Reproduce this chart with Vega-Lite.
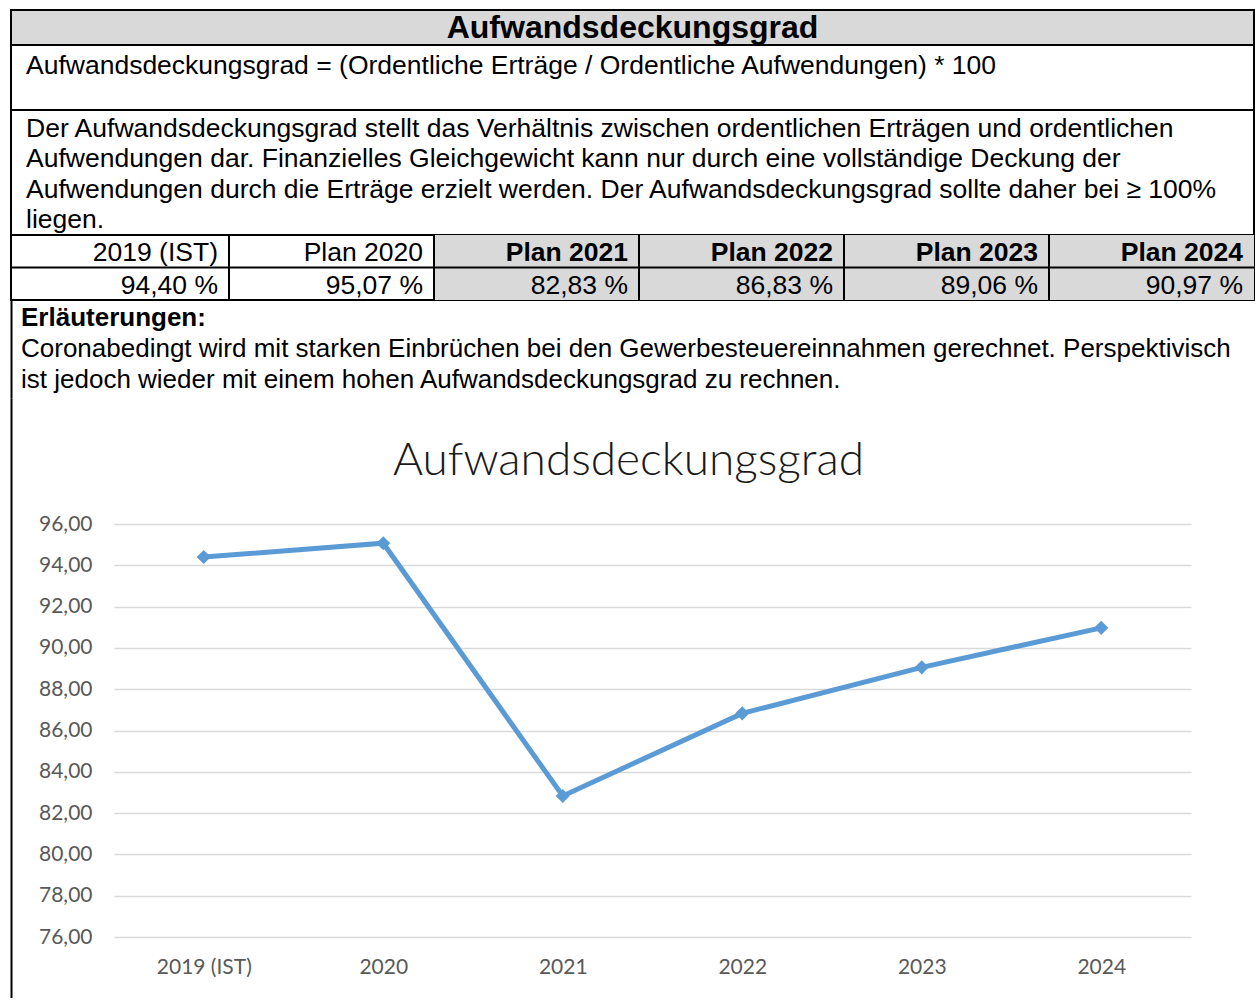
{
  "$schema": "https://vega.github.io/schema/vega-lite/v6.json",
  "usermeta": {"embedOptions": {"actions": false}},
  "padding": {"left": 9, "top": 9, "right": 0, "bottom": 0},
  "spacing": 0,
  "bounds": "flush",
  "config": {
    "view": {"stroke": null},
    "font": "Liberation Sans",
    "text": {"font": "Liberation Sans", "fontSize": 26.5, "color": "black"}
  },
  "datasets": {
    "kennzahl": [
      {"jahr": "2019 (IST)", "grad": 94.40},
      {"jahr": "2020", "grad": 95.07},
      {"jahr": "2021", "grad": 82.83},
      {"jahr": "2022", "grad": 86.83},
      {"jahr": "2023", "grad": 89.06},
      {"jahr": "2024", "grad": 90.97}
    ],
    "tabelle": [
      {"spalte": "2019 (IST)", "zeile": "Kopf", "inhalt": "2019 (IST)", "planjahr": false},
      {"spalte": "2019 (IST)", "zeile": "Wert", "inhalt": "94,40 %", "planjahr": false},
      {"spalte": "Plan 2020", "zeile": "Kopf", "inhalt": "Plan 2020", "planjahr": false},
      {"spalte": "Plan 2020", "zeile": "Wert", "inhalt": "95,07 %", "planjahr": false},
      {"spalte": "Plan 2021", "zeile": "Kopf", "inhalt": "Plan 2021", "planjahr": true},
      {"spalte": "Plan 2021", "zeile": "Wert", "inhalt": "82,83 %", "planjahr": true},
      {"spalte": "Plan 2022", "zeile": "Kopf", "inhalt": "Plan 2022", "planjahr": true},
      {"spalte": "Plan 2022", "zeile": "Wert", "inhalt": "86,83 %", "planjahr": true},
      {"spalte": "Plan 2023", "zeile": "Kopf", "inhalt": "Plan 2023", "planjahr": true},
      {"spalte": "Plan 2023", "zeile": "Wert", "inhalt": "89,06 %", "planjahr": true},
      {"spalte": "Plan 2024", "zeile": "Kopf", "inhalt": "Plan 2024", "planjahr": true},
      {"spalte": "Plan 2024", "zeile": "Wert", "inhalt": "90,97 %", "planjahr": true}
    ]
  },
  "vconcat": [
    {
      "width": 1243, "height": 35,
      "view": {"fill": "#d9d9d9", "stroke": "black", "strokeWidth": 2},
      "data": {"values": [{"inhalt": "Aufwandsdeckungsgrad"}]},
      "mark": {"type": "text", "fontWeight": "bold", "fontSize": 32},
      "encoding": {"text": {"field": "inhalt"}}
    },
    {
      "width": 1243, "height": 65,
      "view": {"fill": "white", "stroke": "black", "strokeWidth": 2},
      "data": {"values": [{"zeile": 1, "inhalt": "Aufwandsdeckungsgrad = (Ordentliche Erträge / Ordentliche Aufwendungen) * 100"}]},
      "mark": {"type": "text", "align": "left", "baseline": "middle", "dx": 15},
      "encoding": {
        "x": {"datum": 0, "type": "quantitative", "axis": null, "scale": {"domain": [0, 1]}},
        "y": {"field": "zeile", "type": "ordinal", "axis": null, "scale": {"type": "point", "padding": 0.5, "align": 0.325}},
        "text": {"field": "inhalt"}
      }
    },
    {
      "width": 1243, "height": 125,
      "view": {"fill": "white", "stroke": "black", "strokeWidth": 2},
      "data": {"values": [
        {"zeile": 1, "inhalt": "Der Aufwandsdeckungsgrad stellt das Verhältnis zwischen ordentlichen Erträgen und ordentlichen"},
        {"zeile": 2, "inhalt": "Aufwendungen dar. Finanzielles Gleichgewicht kann nur durch eine vollständige Deckung der"},
        {"zeile": 3, "inhalt": "Aufwendungen durch die Erträge erzielt werden. Der Aufwandsdeckungsgrad sollte daher bei ≥ 100%"},
        {"zeile": 4, "inhalt": "liegen."}
      ]},
      "mark": {"type": "text", "align": "left", "baseline": "middle", "dx": 15},
      "encoding": {
        "x": {"datum": 0, "type": "quantitative", "axis": null, "scale": {"domain": [0, 1]}},
        "y": {"field": "zeile", "type": "ordinal", "axis": null, "scale": {"type": "point", "padding": 0.56, "align": 0.56}},
        "text": {"field": "inhalt"}
      }
    },
    {
      "width": 1243, "height": 65,
      "view": {"fill": "white", "stroke": "black", "strokeWidth": 2},
      "data": {"name": "tabelle"},
      "layer": [
        {
          "transform": [{"filter": "datum.planjahr"}],
          "mark": {"type": "rect", "fill": "#d9d9d9"},
          "encoding": {
            "x": {"field": "spalte", "type": "nominal", "sort": ["2019 (IST)", "Plan 2020", "Plan 2021", "Plan 2022", "Plan 2023", "Plan 2024"], "axis": null, "scale": {"type": "band", "paddingInner": 0, "paddingOuter": 0.0317, "align": 1}},
            "y": {"field": "zeile", "type": "nominal", "sort": ["Kopf", "Wert"], "axis": null, "scale": {"type": "band", "paddingInner": 0, "paddingOuter": 0}}
          }
        },
        {
          "transform": [{"filter": "datum.zeile == 'Kopf' && datum.spalte != '2019 (IST)'"}],
          "mark": {"type": "rule", "color": "black", "strokeWidth": 2},
          "encoding": {
            "x": {"field": "spalte", "type": "nominal", "sort": ["2019 (IST)", "Plan 2020", "Plan 2021", "Plan 2022", "Plan 2023", "Plan 2024"], "bandPosition": 0}
          }
        },
        {
          "transform": [{"filter": "datum.zeile == 'Wert' && datum.spalte == '2019 (IST)'"}],
          "mark": {"type": "rule", "color": "black", "strokeWidth": 2},
          "encoding": {
            "y": {"field": "zeile", "type": "nominal", "sort": ["Kopf", "Wert"], "bandPosition": 0}
          }
        },
        {
          "transform": [{"filter": "datum.zeile == 'Kopf' && datum.planjahr"}],
          "mark": {"type": "text", "align": "right", "baseline": "middle", "dx": -11, "dy": 2, "fontWeight": "bold"},
          "encoding": {
            "x": {"field": "spalte", "type": "nominal", "sort": ["2019 (IST)", "Plan 2020", "Plan 2021", "Plan 2022", "Plan 2023", "Plan 2024"], "bandPosition": 1},
            "y": {"field": "zeile", "type": "nominal", "sort": ["Kopf", "Wert"]},
            "text": {"field": "inhalt"}
          }
        },
        {
          "transform": [{"filter": "!(datum.zeile == 'Kopf' && datum.planjahr)"}],
          "mark": {"type": "text", "align": "right", "baseline": "middle", "dx": -11, "dy": 2},
          "encoding": {
            "x": {"field": "spalte", "type": "nominal", "sort": ["2019 (IST)", "Plan 2020", "Plan 2021", "Plan 2022", "Plan 2023", "Plan 2024"], "bandPosition": 1},
            "y": {"field": "zeile", "type": "nominal", "sort": ["Kopf", "Wert"]},
            "text": {"field": "inhalt"}
          }
        }
      ]
    },
    {
      "width": 1243, "height": 98,
      "data": {"values": [
        {"zeile": 1, "art": "Überschrift", "inhalt": "Erläuterungen:"},
        {"zeile": 2, "art": "Text", "inhalt": "Coronabedingt wird mit starken Einbrüchen bei den Gewerbesteuereinnahmen gerechnet. Perspektivisch"},
        {"zeile": 3, "art": "Text", "inhalt": "ist jedoch wieder mit einem hohen Aufwandsdeckungsgrad zu rechnen."}
      ]},
      "encoding": {
        "x": {"datum": 0, "type": "quantitative", "axis": null, "scale": {"domain": [0, 1]}},
        "y": {"field": "zeile", "type": "ordinal", "scale": {"type": "point", "padding": 0.58},
              "axis": {"domain": true, "domainColor": "black", "domainWidth": 2, "labels": false, "ticks": false, "grid": false, "title": null}},
        "text": {"field": "inhalt"}
      },
      "layer": [
        {"transform": [{"filter": "datum.art == 'Überschrift'"}], "mark": {"type": "text", "align": "left", "baseline": "middle", "dx": 10, "fontWeight": "bold", "fontSize": 26}},
        {"transform": [{"filter": "datum.art == 'Text'"}], "mark": {"type": "text", "align": "left", "baseline": "middle", "dx": 10, "fontSize": 26}}
      ]
    },
    {
      "width": 1243, "height": 600,
      "title": {"text": "Aufwandsdeckungsgrad", "font": "Lato", "fontSize": 46, "fontWeight": 300, "color": "#1a1a1a", "anchor": "middle", "frame": "group", "offset": -87, "dx": -4},
      "data": {"name": "kennzahl"},
      "mark": {"type": "line", "color": "#5b9bd5", "strokeWidth": 5, "point": {"shape": "diamond", "size": 200, "filled": true, "color": "#5b9bd5"}},
      "encoding": {
        "x": {"field": "jahr", "type": "ordinal", "sort": null,
              "scale": {"type": "point", "range": [103, 1180], "padding": 0.5},
              "axis": {"orient": "bottom", "offset": -61, "domain": false, "ticks": false, "labelPadding": 19, "labelFont": "Lato", "labelFontSize": 21, "labelColor": "#595959", "labelAngle": 0, "title": null}},
        "y": {"field": "grad", "type": "quantitative",
              "scale": {"domain": [73.046, 102.102], "nice": false, "zero": false},
              "axis": {"values": [76, 78, 80, 82, 84, 86, 88, 90, 92, 94, 96],
                       "labelExpr": "replace(format(datum.value, '.2f'), '.', ',')",
                       "grid": true, "gridColor": "#d9d9d9", "gridWidth": 1.5,
                       "domain": true, "domainColor": "black", "domainWidth": 2,
                       "ticks": false, "labelPadding": -81, "labelFont": "Lato", "labelFontSize": 21, "labelColor": "#595959", "title": null}}
      }
    }
  ]
}
